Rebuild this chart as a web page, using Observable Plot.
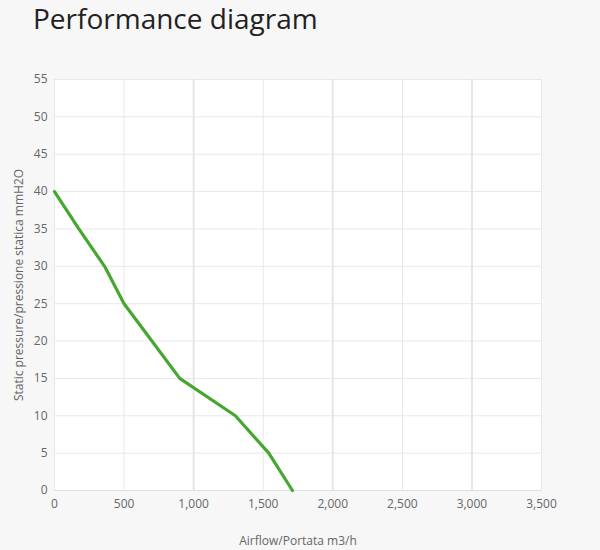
<!DOCTYPE html>
<html>
<head>
<meta charset="utf-8">
<script src="https://cdn.jsdelivr.net/npm/d3@7"></script>
<script src="https://cdn.jsdelivr.net/npm/@observablehq/plot@0.6"></script>
<style>
  html, body { margin: 0; padding: 0; background: #f7f7f7; width: 600px; height: 550px; overflow: hidden; }
  #title { height: 50px; margin: 0; padding: 1px 0 0 33px; box-sizing: border-box; font-family: "Open Sans", sans-serif; font-weight: 400; font-size: 28px; line-height: 34px; color: #222; }
  #chart svg { display: block; background: transparent; }
</style>
</head>
<body>
<div id="title">Performance diagram</div>
<div id="chart"></div>
<script>
const airflow = [0, 175, 360, 500, 700, 900, 1300, 1540, 1710];
const pressure = [40, 35, 30, 25, 20, 15, 10, 5, 0];
const xTicks = [0, 500, 1000, 1500, 2000, 2500, 3000, 3500];
const xMajor = [1000, 2000, 3000];
const yTicks = [0, 5, 10, 15, 20, 25, 30, 35, 40, 45, 50, 55];

const data = airflow.map((a, i) => ({x: a, y: pressure[i]}));

const chart = Plot.plot({
  width: 600,
  height: 500,
  marginTop: 29,
  marginBottom: 60,
  marginLeft: 54,
  marginRight: 59,
  style: {fontFamily: "'Open Sans', sans-serif", fontSize: "12px", color: "#666", background: "transparent"},
  x: {domain: [0, 3500], ticks: xTicks, tickFormat: d3.format(","), tickSize: 0, tickPadding: 9,
      label: "Airflow/Portata m3/h", labelAnchor: "center", labelOffset: 54, labelArrow: "none"},
  y: {domain: [0, 55], ticks: yTicks, tickSize: 0, tickPadding: 7,
      label: "Static pressure/pressione statica mmH2O", labelAnchor: "center", labelOffset: 40, labelArrow: "none"},
  marks: [
    Plot.frame({fill: "white", stroke: "#e8e8e8"}),
    Plot.ruleY(yTicks, {stroke: "#e8e8e8", strokeWidth: 1}),
    Plot.ruleX(xTicks, {stroke: "#e8e8e8", strokeWidth: 1}),
    Plot.ruleX(xMajor, {stroke: "#e6e6e6", strokeWidth: 2}),
    Plot.ruleY([0], {stroke: "#e0e0e0", strokeWidth: 1}),
    Plot.line(data, {x: "x", y: "y", stroke: "#46a72f", strokeWidth: 3.2, strokeLinejoin: "round"})
  ]
});
document.getElementById("chart").appendChild(chart);
</script>
</body>
</html>
